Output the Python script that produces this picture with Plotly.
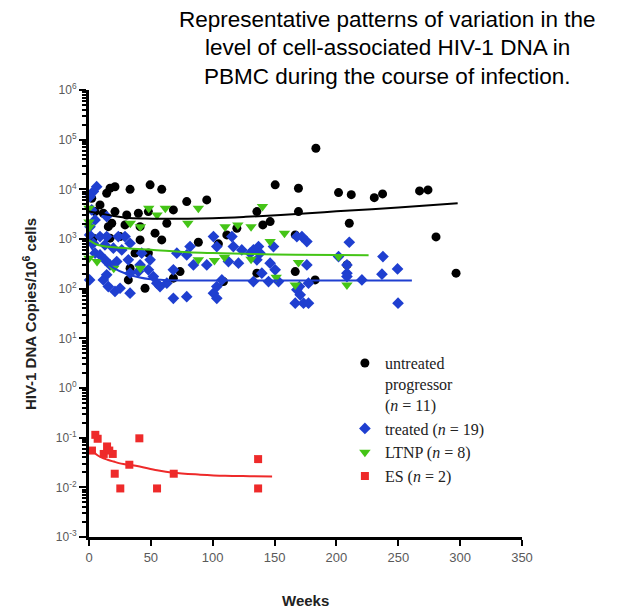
import plotly.graph_objects as go

# ---------------- data ----------------
# untreated progressors (black circles)
up_weeks = [2.2, 8.9, 14.3, 17, 21, 33.2, 49.4, 58.8, 4.9, 11.6, 21, 30.5, 39.9, 48, 68.2,
            79, 95.2, 15.6, 18.4, 29.1, 41.3, 62.9, 3.5, 25.1, 17, 41.3, 53.4, 58.8, 88.4,
            104.6, 37.2, 48, 111.4, 119.5, 140.5, 146.4, 135.7, 150.5, 169.3, 169.3, 166.7,
            33.2, 31.8, 45.3, 73.6, 68.2, 108.7, 135.7, 166.7, 182.8, 183.4, 201.7, 212,
            230.6, 237.3, 267.2, 274, 210.4, 280.5, 296.7, 208.5]
up_values = [6600, 4850, 8350, 10500, 11300, 10000, 12300, 10000, 3560, 3300, 3560, 3050, 3300,
             3560, 3850, 5660, 6120, 1770, 2080, 1920, 1770, 2080, 1040, 1120, 1040, 960, 1310,
             960, 860, 800, 520, 520, 1210, 1650, 1920, 2240, 3560, 12300, 10500, 3560, 1210,
             258, 150, 102, 221, 163, 139, 205, 221, 150, 67100, 8590, 7820, 6800, 8080, 9290,
             9730, 2080, 1100, 205, 301]

# treated (blue diamonds)
tr_weeks = [6.2, 3.5, 0.8, 2.2, 14.3, 4.9, 0.8, 0.5, 8.9, 14.3, 23.7, 29.1, 3.5, 12.9, 33.2,
            19.7, 26.5, 4.9, 8.9, 12.9, 17, 22.4, 31.8, 42.6, 49.4, 41.3, 33.2, 39.9, 48, 52,
            54.8, 57.4, 62.9, 14.3, 11.6, 15.6, 21, 0.5, 33.2, 25.1, 68.2, 79, 100.6, 103.3,
            107.4, 103.3, 68.2, 71, 79, 81.7, 84.4, 95.2, 100.6, 103.3, 112.7, 115.5, 116.7,
            120.8, 123.5, 130.3, 132.9, 137, 138.3, 135.7, 139.7, 146.4, 149.1, 150.5, 132.9,
            145.1, 168, 176.1, 172.1, 176.1, 168, 170.7, 166.7, 173.4, 177.4, 153.2, 210.4,
            208.5, 208.5, 208.5, 237.6, 236.8, 249.4, 220.6, 201.7, 170.1, 177.4, 249.8]
tr_values = [11300, 9000, 7130, 3850, 2830, 2420, 1770, 1210, 1120, 1120, 1120, 1120, 822, 760,
             822, 653, 604, 518, 479, 380, 301, 351, 380, 518, 380, 301, 205, 221, 239, 175,
             129, 110, 129, 190, 150, 110, 88, 150, 81, 102, 64, 69, 81, 110, 150, 64, 239,
             518, 479, 703, 301, 301, 1120, 703, 351, 1120, 703, 326, 604, 518, 604, 703, 518,
             380, 205, 326, 703, 239, 139, 139, 1120, 887, 1120, 301, 95, 75, 51, 51, 51, 139,
             860, 301, 205, 175, 443, 196, 250, 150, 443, 110, 129, 51]

# LTNP (green triangles)
lt_weeks = [0, 0, 0.5, 0, 6.5, 20, 41.5, 33.4, 41.5, 48.3, 61.7, 55, 88.4, 79.9, 110, 120.3,
            131, 140.2, 158, 146.4, 88.4, 101.4, 109.5, 131, 151.3, 169.3, 166.7, 208.5, 201.7]
lt_values = [4170, 2210, 1750, 411, 351, 258, 258, 2080, 1770, 4170, 4170, 3050, 4170, 2080,
             1770, 1920, 1770, 4490, 1310, 887, 380, 367, 430, 393, 170, 335, 119, 119, 443]

# ES (red squares)
es_weeks = [2.4, 5.1, 7.0, 14.6, 11.9, 19.2, 16.4, 20.8, 25.3, 32.6, 40.7, 55, 68.5, 136.7, 136.7]
es_values = [0.055, 0.114, 0.095, 0.0665, 0.047, 0.047, 0.055, 0.0188, 0.0095, 0.0285, 0.097,
             0.0095, 0.0188, 0.037, 0.0095]

# fitted curves
up_fit_weeks = [0, 10, 20, 30, 45, 60, 80, 100, 125, 155, 200, 250, 298]
up_fit_values = [3600, 3250, 2900, 2680, 2580, 2550, 2560, 2620, 2780, 3050, 3600, 4300, 5250]
tr_fit_weeks = [0, 5, 10, 20, 30, 40, 50, 60, 80, 100, 150, 200, 261]
tr_fit_values = [800, 520, 390, 260, 200, 170, 155, 150, 146, 146, 146, 146, 146]
lt_fit_weeks = [0, 5, 10, 20, 35, 50, 80, 100, 150, 200, 226]
lt_fit_values = [950, 800, 730, 680, 640, 610, 540, 520, 490, 475, 470]
es_fit_weeks = [2.5, 6, 10, 15, 20, 26, 33, 41, 55, 68, 90, 110, 130, 148]
es_fit_values = [0.057, 0.046, 0.040, 0.036, 0.033, 0.030, 0.0283, 0.0262, 0.022, 0.0196,
                 0.0180, 0.0171, 0.0168, 0.0166]

x_ticks = [0, 50, 100, 150, 200, 250, 300, 350]
y_exps = [-3, -2, -1, 0, 1, 2, 3, 4, 5, 6]

legend_names = ["untreated<br>progressor<br>(<i>n</i> = 11)", "treated (<i>n</i> = 19)",
                "LTNP (<i>n</i> = 8)", "ES (<i>n</i> = 2)"]
title_lines = ["Representative patterns of variation in the",
               "level of cell-associated HIV-1 DNA in",
               "PBMC during the course of infection."]

BLACK = "#000000"
BLUE = "#1f3fd0"
GREEN = "#44c416"
RED = "#ee2a2a"

fig = go.Figure()

fig.add_trace(go.Scatter(x=up_weeks, y=up_values, mode="markers", name=legend_names[0],
                         marker=dict(symbol="circle", size=9, color=BLACK), cliponaxis=False))
fig.add_trace(go.Scatter(x=tr_weeks, y=tr_values, mode="markers", name=legend_names[1],
                         marker=dict(symbol="diamond", size=9, color=BLUE), cliponaxis=False))
fig.add_trace(go.Scatter(x=lt_weeks, y=lt_values, mode="markers", name=legend_names[2],
                         marker=dict(symbol="triangle-down", size=10, color=GREEN), cliponaxis=False))
fig.add_trace(go.Scatter(x=es_weeks, y=es_values, mode="markers", name=legend_names[3],
                         marker=dict(symbol="square", size=8, color=RED), cliponaxis=False))

for xs, ys, c in [(up_fit_weeks, up_fit_values, BLACK), (tr_fit_weeks, tr_fit_values, BLUE),
                  (lt_fit_weeks, lt_fit_values, GREEN), (es_fit_weeks, es_fit_values, RED)]:
    fig.add_trace(go.Scatter(x=xs, y=ys, mode="lines", line=dict(color=c, width=2, shape="spline"),
                             showlegend=False, hoverinfo="skip", cliponaxis=False))

minor_vals = [m * 10 ** e for e in range(-3, 6) for m in range(2, 10)]

# page body has an 8px default margin, so the figure is 8px smaller than the window
fig.update_layout(
    width=611, height=602, autosize=False,
    margin=dict(l=81, r=97, t=82, b=73),
    plot_bgcolor="white", paper_bgcolor="white",
    font=dict(family="Liberation Sans, Arial", color="#555555"),
    xaxis=dict(range=[0, 350], tickvals=x_ticks, ticktext=[str(v) for v in x_ticks],
               showline=True, linewidth=3, linecolor="black", ticks="outside", ticklen=6,
               tickwidth=2, tickcolor="black", showgrid=False, zeroline=False,
               tickfont=dict(size=13, color="#5a5a5a")),
    yaxis=dict(type="log", range=[-3, 6], tickvals=[10 ** e for e in y_exps],
               ticktext=["10<sup>%d</sup>" % e for e in y_exps],
               showline=True, linewidth=3, linecolor="black", ticks="outside", ticklen=7,
               tickwidth=2, tickcolor="black", showgrid=False, zeroline=False,
               tickfont=dict(size=12, color="#5a5a5a"),
               minor=dict(tickvals=minor_vals, ticks="outside", ticklen=4, tickwidth=1.5,
                          tickcolor="black", showgrid=False)),
    legend=dict(x=0.591, y=0.427, xanchor="left", yanchor="top", bgcolor="rgba(0,0,0,0)",
                font=dict(family="Liberation Serif, Times New Roman", size=16, color="#222222"),
                valign="top", tracegroupgap=0),
    showlegend=True,
)

for line, yp in zip(title_lines, [1.1566, 1.094, 1.031]):
    fig.add_annotation(text=line, xref="paper", yref="paper", x=0.689, y=yp,
                       xanchor="center", yanchor="middle", showarrow=False,
                       font=dict(family="Liberation Sans, Arial", size=22.5, color="black"))
fig.add_annotation(text="<b>HIV-1 DNA Copies/10<sup>6</sup> cells</b>", xref="paper", yref="paper",
                   x=-0.136, y=0.499, xanchor="center", yanchor="middle", textangle=-90,
                   showarrow=False, font=dict(family="Liberation Sans, Arial", size=15, color="#222222"))
fig.add_annotation(text="<b>Weeks</b>", xref="paper", yref="paper", x=0.499, y=-0.141,
                   xanchor="center", yanchor="middle", showarrow=False,
                   font=dict(family="Liberation Sans, Arial", size=15, color="#222222"))

fig.write_html("out.html")
